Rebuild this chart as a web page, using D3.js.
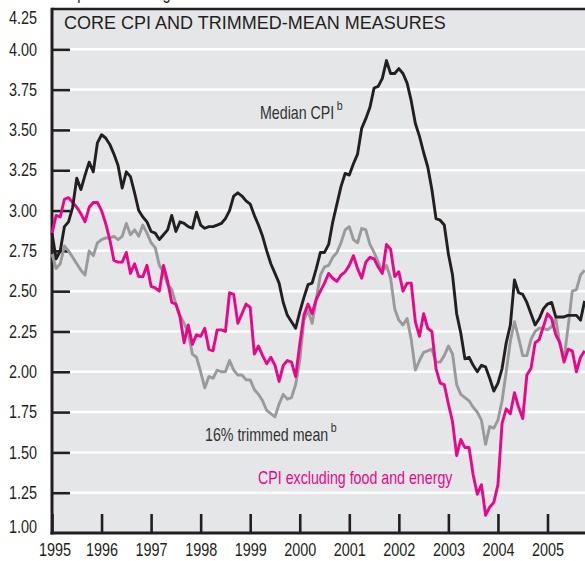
<!DOCTYPE html>
<html>
<head>
<meta charset="utf-8">
<script src="https://cdn.jsdelivr.net/npm/d3@7"></script>
<style>
  html, body { margin: 0; padding: 0; background: #fff; }
  svg { display: block; font-family: "Liberation Sans", Arial, sans-serif; }
</style>
</head>
<body>
<svg id="chart" width="585" height="561"></svg>
<script>
// Monthly series, 12-month percent change, Jan 1995 .. Oct 2005
const startYear = 1995;
const yearTicks = d3.range(1995, 2006);
const valueTicks = [1.00, 1.25, 1.50, 1.75, 2.00, 2.25, 2.50, 2.75, 3.00, 3.25, 3.50, 3.75, 4.00, 4.25];

const medianCPI = [
  2.86, 2.70, 2.75, 2.90, 2.93, 3.02, 3.20, 3.13, 3.22, 3.30, 3.24, 3.42,
  3.47, 3.45, 3.41, 3.35, 3.28, 3.14, 3.24, 3.21, 3.11, 3.00, 2.96, 2.93,
  2.87, 2.86, 2.82, 2.85, 2.88, 2.97, 2.87, 2.93, 2.92, 2.90, 2.89, 2.99,
  2.91, 2.89, 2.90, 2.90, 2.91, 2.92, 2.95, 3.00, 3.09, 3.11, 3.09, 3.06,
  3.04, 2.97, 2.91, 2.84, 2.75, 2.67, 2.61, 2.55, 2.43, 2.35, 2.31, 2.27,
  2.37, 2.46, 2.54, 2.55, 2.64, 2.74, 2.74, 2.79, 2.93, 3.04, 3.15, 3.23,
  3.22, 3.29, 3.35, 3.51, 3.57, 3.64, 3.76, 3.77, 3.82, 3.93, 3.85, 3.85,
  3.88, 3.85, 3.79, 3.68, 3.54, 3.46, 3.36, 3.27, 3.13, 2.95, 2.94, 2.91,
  2.73, 2.60, 2.36, 2.24, 2.08, 2.09, 2.04, 2.00, 2.04, 2.03, 1.96, 1.88,
  1.93, 2.02, 2.18, 2.29, 2.57, 2.49, 2.48, 2.43, 2.36, 2.29, 2.33, 2.39,
  2.42, 2.43, 2.34, 2.34, 2.34, 2.35, 2.35, 2.35, 2.32, 2.44
];

const trimmedMean = [
  2.73, 2.64, 2.67, 2.78, 2.75, 2.71, 2.67, 2.63, 2.60, 2.75, 2.72, 2.80,
  2.82, 2.83, 2.83, 2.84, 2.82, 2.84, 2.92, 2.85, 2.88, 2.84, 2.91, 2.86,
  2.80, 2.77, 2.66, 2.62, 2.54, 2.51, 2.42, 2.35, 2.30, 2.24, 2.11, 2.09,
  2.00, 1.90, 1.97, 1.96, 2.01, 2.00, 2.00, 2.07, 2.01, 1.98, 1.98, 1.95,
  1.95, 1.89, 1.86, 1.82, 1.76, 1.74, 1.72, 1.80, 1.86, 1.83, 1.84, 1.92,
  2.07, 2.32, 2.38, 2.30, 2.45, 2.60, 2.65, 2.66, 2.71, 2.74, 2.80, 2.88,
  2.90, 2.82, 2.80, 2.89, 2.88, 2.79, 2.74, 2.68, 2.62, 2.66, 2.58, 2.39,
  2.32, 2.29, 2.33, 2.20, 2.01, 2.07, 2.12, 2.13, 2.14, 2.06, 2.06, 2.10,
  2.16, 2.11, 1.92, 1.86, 1.84, 1.82, 1.78, 1.75, 1.70, 1.55, 1.66, 1.65,
  1.70, 1.82, 2.00, 2.19, 2.31, 2.21, 2.10, 2.10, 2.20, 2.25, 2.27, 2.27,
  2.26, 2.28, 2.33, 2.17, 2.08, 2.28, 2.50, 2.51, 2.60, 2.63
];

const coreCPI = [
  2.86, 2.97, 2.96, 3.07, 3.08, 3.05, 3.02, 2.98, 2.93, 3.02, 3.05, 3.05,
  3.00, 2.92, 2.82, 2.69, 2.68, 2.68, 2.74, 2.61, 2.67, 2.59, 2.59, 2.66,
  2.53, 2.52, 2.50, 2.66, 2.56, 2.43, 2.42, 2.34, 2.18, 2.29, 2.17, 2.23,
  2.22, 2.27, 2.14, 2.13, 2.26, 2.26, 2.25, 2.49, 2.48, 2.30, 2.36, 2.42,
  2.40, 2.11, 2.16, 2.10, 2.05, 2.09, 2.04, 1.94, 2.04, 2.07, 2.06, 1.97,
  2.17, 2.35, 2.42, 2.36, 2.45, 2.50, 2.55, 2.61, 2.58, 2.56, 2.60, 2.62,
  2.66, 2.72, 2.64, 2.58, 2.68, 2.71, 2.70, 2.65, 2.61, 2.79, 2.76, 2.59,
  2.62, 2.50, 2.55, 2.55, 2.31, 2.22, 2.36, 2.27, 2.25, 2.02, 1.93, 1.92,
  1.80, 1.69, 1.48, 1.58, 1.53, 1.53, 1.36, 1.24, 1.30, 1.11, 1.16, 1.19,
  1.30, 1.68, 1.77, 1.74, 1.87, 1.78, 1.71, 1.98, 2.02, 2.18, 2.20, 2.28,
  2.36, 2.33, 2.23, 2.18, 2.06, 2.14, 2.13, 2.00, 2.09, 2.13
];

const seriesList = [
  { name: "trimmed", values: trimmedMean, color: "#9a9a9a" },
  { name: "core",    values: coreCPI,     color: "#e8078a" },
  { name: "median",  values: medianCPI,   color: "#231f20" }
];

const ink = "#231f20";
const plotLeft = 52, plotRight = 585, plotTop = 9, plotBottom = 533;

const x = d3.scaleLinear().domain([1995, 2006]).range([plotLeft, plotLeft + 11 * 49.55]);
const y = d3.scaleLinear().domain([1, 4.25]).range([plotBottom, plotTop]);

const svg = d3.select("#chart");

// squeeze text horizontally about its anchor, to mimic the condensed face of the original
function narrow(sel, k = 0.82) {
  sel.each(function () {
    const ax = +(this.getAttribute("x") || 0);
    d3.select(this).attr("transform", `translate(${ax},0) scale(${k},1) translate(${-ax},0)`);
  });
}

// plot background
svg.append("rect")
    .attr("x", plotLeft).attr("y", plotTop)
    .attr("width", plotRight - plotLeft).attr("height", plotBottom - plotTop)
    .attr("fill", "#e5e6e8");

// white gridlines
svg.append("g")
    .selectAll("line")
    .data(valueTicks.filter(d => d > 1 && d < 4.25))
    .join("line")
    .attr("x1", plotLeft).attr("x2", plotRight)
    .attr("y1", d => y(d)).attr("y2", d => y(d))
    .attr("stroke", "#fff")
    .attr("stroke-width", 2.5);

// axes
const yAxis = svg.append("g")
    .attr("transform", `translate(${plotLeft},0)`)
    .call(d3.axisLeft(y)
      .tickValues(valueTicks)
      .tickSize(-18)
      .tickPadding(15)
      .tickFormat(d3.format(".2f")));

const xAxis = svg.append("g")
    .attr("transform", `translate(0,${plotBottom})`)
    .call(d3.axisBottom(x)
      .tickValues(yearTicks)
      .tickSize(-19)
      .tickPadding(10)
      .tickFormat(d3.format("d")));

[yAxis, xAxis].forEach(g => {
  g.select(".domain").remove();
  g.selectAll(".tick line").attr("stroke", ink).attr("stroke-width", 2.6);
  g.selectAll(".tick text").attr("fill", ink).attr("font-size", 18)
      .attr("font-family", "Liberation Sans, Arial, sans-serif")
      .call(narrow, 0.8);
});
// top and bottom value labels sit inside the frame
yAxis.selectAll(".tick").filter(d => d === 4.25).select("line").remove();
yAxis.selectAll(".tick").filter(d => d === 1.00).select("line").remove();
yAxis.selectAll(".tick text").filter(d => d === 4.25).attr("dy", "0.8em");
yAxis.selectAll(".tick text").filter(d => d === 1.00).attr("dy", "-0.05em");
xAxis.selectAll(".tick text").filter(d => d === 1995).attr("dx", 3);

// frame: top rule, left and bottom axes
svg.append("line").attr("x1", plotLeft).attr("x2", plotRight).attr("y1", plotTop).attr("y2", plotTop)
    .attr("stroke", ink).attr("stroke-width", 2.6);
svg.append("line").attr("x1", plotLeft).attr("x2", plotLeft).attr("y1", plotTop - 1.3).attr("y2", plotBottom + 1.5)
    .attr("stroke", ink).attr("stroke-width", 3);
svg.append("line").attr("x1", plotLeft - 1.5).attr("x2", plotRight).attr("y1", plotBottom).attr("y2", plotBottom)
    .attr("stroke", ink).attr("stroke-width", 3);

// series lines
const line = d3.line()
    .x((d, i) => x(startYear + i / 12))
    .y(d => y(d));

svg.append("g")
    .selectAll("path")
    .data(seriesList)
    .join("path")
    .attr("d", d => line(d.values))
    .attr("fill", "none")
    .attr("stroke", d => d.color)
    .attr("stroke-width", 2.9)
    .attr("stroke-linejoin", "round");

// title and cut-off unit line
svg.append("text")
    .attr("x", 64).attr("y", 29)
    .attr("font-size", 18)
    .attr("fill", ink)
    .text("CORE CPI AND TRIMMED-MEAN MEASURES");

svg.append("text")
    .attr("x", 11).attr("y", -1)
    .attr("font-size", 18)
    .attr("fill", ink)
    .text("12-month percent change")
    .call(narrow);

// series labels (superscript note mark as its own text)
function label(txt, sup, xPos, yPos, color) {
  const k = 0.79;
  const t = svg.append("text")
      .attr("x", xPos).attr("y", yPos)
      .attr("font-size", 18)
      .attr("fill", color)
      .text(txt)
      .call(narrow, k);
  if (sup) {
    const w = t.node().getComputedTextLength() * k;
    svg.append("text")
        .attr("x", xPos + w + 2.5).attr("y", yPos - 9)
        .attr("font-size", 13)
        .attr("fill", color)
        .text(sup)
        .call(narrow);
  }
}
label("Median CPI", "b", 260, 119, "#333");
label("16% trimmed mean", "b", 205, 441, "#333");
label("CPI excluding food and energy", null, 258, 484, "#e8078a");
</script>
</body>
</html>
